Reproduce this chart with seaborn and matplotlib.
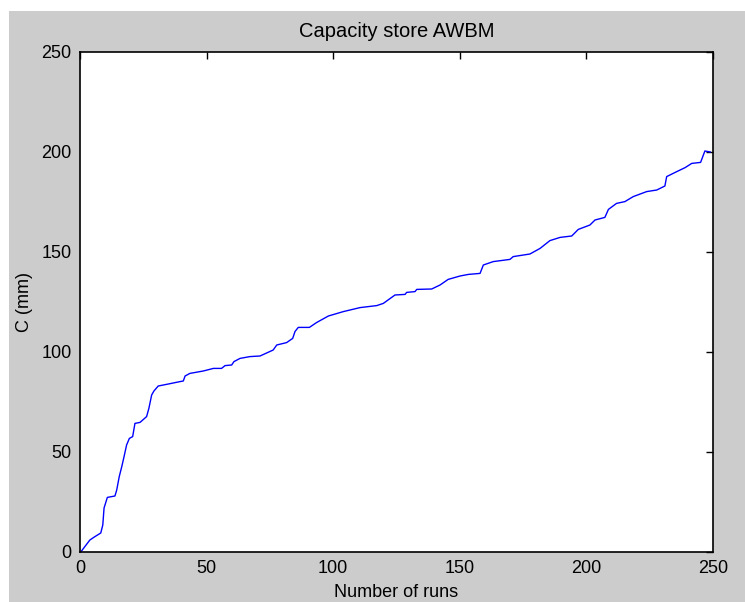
import numpy as np
import pandas as pd
import matplotlib
matplotlib.use('Agg')
import matplotlib.pyplot as plt
from matplotlib.patches import Rectangle
import seaborn as sns

###################################################################
# data (sorted capacity values per run)
###################################################################

runs = [0.3, 3.9, 5.9, 8.2, 9.0, 9.5, 10.8, 13.8, 14.5, 15.5, 16.5, 17.4, 18.4,
        19.5, 20.8, 21.7, 23.7, 26.3, 27.2, 28.3, 29.2, 30.9, 34.9, 39.5, 40.8,
        41.5, 43.4, 48.7, 52.7, 55.9, 57.3, 59.9, 60.8, 63.2, 67.1, 71.1, 76.3,
        77.7, 81.6, 84.0, 84.9, 86.2, 90.6, 93.4, 98.1, 104.0, 110.6, 117.2,
        119.8, 124.4, 128.4, 129.0, 132.3, 133.0, 138.9, 142.2, 145.4, 150.1,
        153.4, 158.0, 159.3, 163.2, 169.8, 171.1, 177.7, 181.7, 185.6, 189.6,
        194.2, 196.8, 201.4, 203.4, 207.3, 208.7, 211.9, 215.2, 218.5, 223.8,
        227.8, 231.0, 231.7, 235.7, 239.0, 241.6, 245.1, 246.2, 246.8, 249.0]
capacity = [0.0, 6.0, 7.7, 9.5, 13.5, 22.0, 27.3, 28.0, 31.0, 37.7, 42.7, 47.7, 53.5,
            56.8, 57.7, 64.3, 64.8, 67.7, 71.8, 78.5, 80.5, 83.0, 84.0, 85.2, 85.5,
            88.0, 89.3, 90.5, 91.8, 91.8, 93.2, 93.5, 95.2, 96.8, 97.7, 98.0, 101.0,
            103.5, 104.7, 106.8, 110.2, 112.3, 112.3, 114.7, 118.0, 120.2, 122.2, 123.2,
            124.3, 128.5, 128.8, 129.8, 130.2, 131.3, 131.5, 133.5, 136.3, 138.0,
            138.8, 139.3, 143.5, 145.2, 146.3, 147.7, 149.0, 151.8, 155.7, 157.3,
            158.0, 161.3, 163.5, 166.0, 167.3, 171.3, 174.3, 175.2, 177.7, 180.2,
            181.0, 183.0, 187.7, 190.2, 192.2, 194.3, 194.8, 198.5, 200.5, 200.0]

x_ticks = [0, 50, 100, 150, 200, 250]
y_ticks = [0, 50, 100, 150, 200, 250]

df = pd.DataFrame({'run': runs, 'C': capacity})

###################################################################
# plot
###################################################################

sns.set_style('white')
plt.rcParams['font.family'] = ['Liberation Sans', 'DejaVu Sans']
plt.rcParams['xtick.direction'] = 'in'
plt.rcParams['ytick.direction'] = 'in'
plt.rcParams['text.color'] = 'black'
plt.rcParams['axes.labelcolor'] = 'black'

fig = plt.figure(figsize=(7.45, 6.02), dpi=100, facecolor='white')
# grey MATLAB-style figure background, with a thin white margin top/left
fig.patches.append(Rectangle((9 / 745, 0), 1, (602 - 11) / 602,
                             transform=fig.transFigure, facecolor='#cccccc',
                             edgecolor='none', zorder=-10))

ax = fig.add_axes([80 / 745, 50 / 602, 633 / 745, 500 / 602])
ax.set_facecolor('white')
sns.lineplot(data=df, x='run', y='C', ax=ax, color='#0000ff', linewidth=1.0,
             estimator=None, sort=False)

ax.set_xlim(0, 250)
ax.set_ylim(0, 250)
ax.set_xticks(x_ticks)
ax.set_yticks(y_ticks)
ax.tick_params(axis='both', which='both', labelsize=13, length=5, width=1,
               colors='black', top=True, right=True, pad=6)
for s in ax.spines.values():
    s.set_color('black')
    s.set_linewidth(1.2)
    s.set_visible(True)

ax.set_title('Capacity store AWBM', fontsize=14.5, pad=11, color='black')
ax.set_xlabel('Number of runs', fontsize=13, labelpad=5)
ax.set_ylabel('C (mm)', fontsize=13, labelpad=6)

fig.savefig('out.png', dpi=100, facecolor=fig.get_facecolor())
